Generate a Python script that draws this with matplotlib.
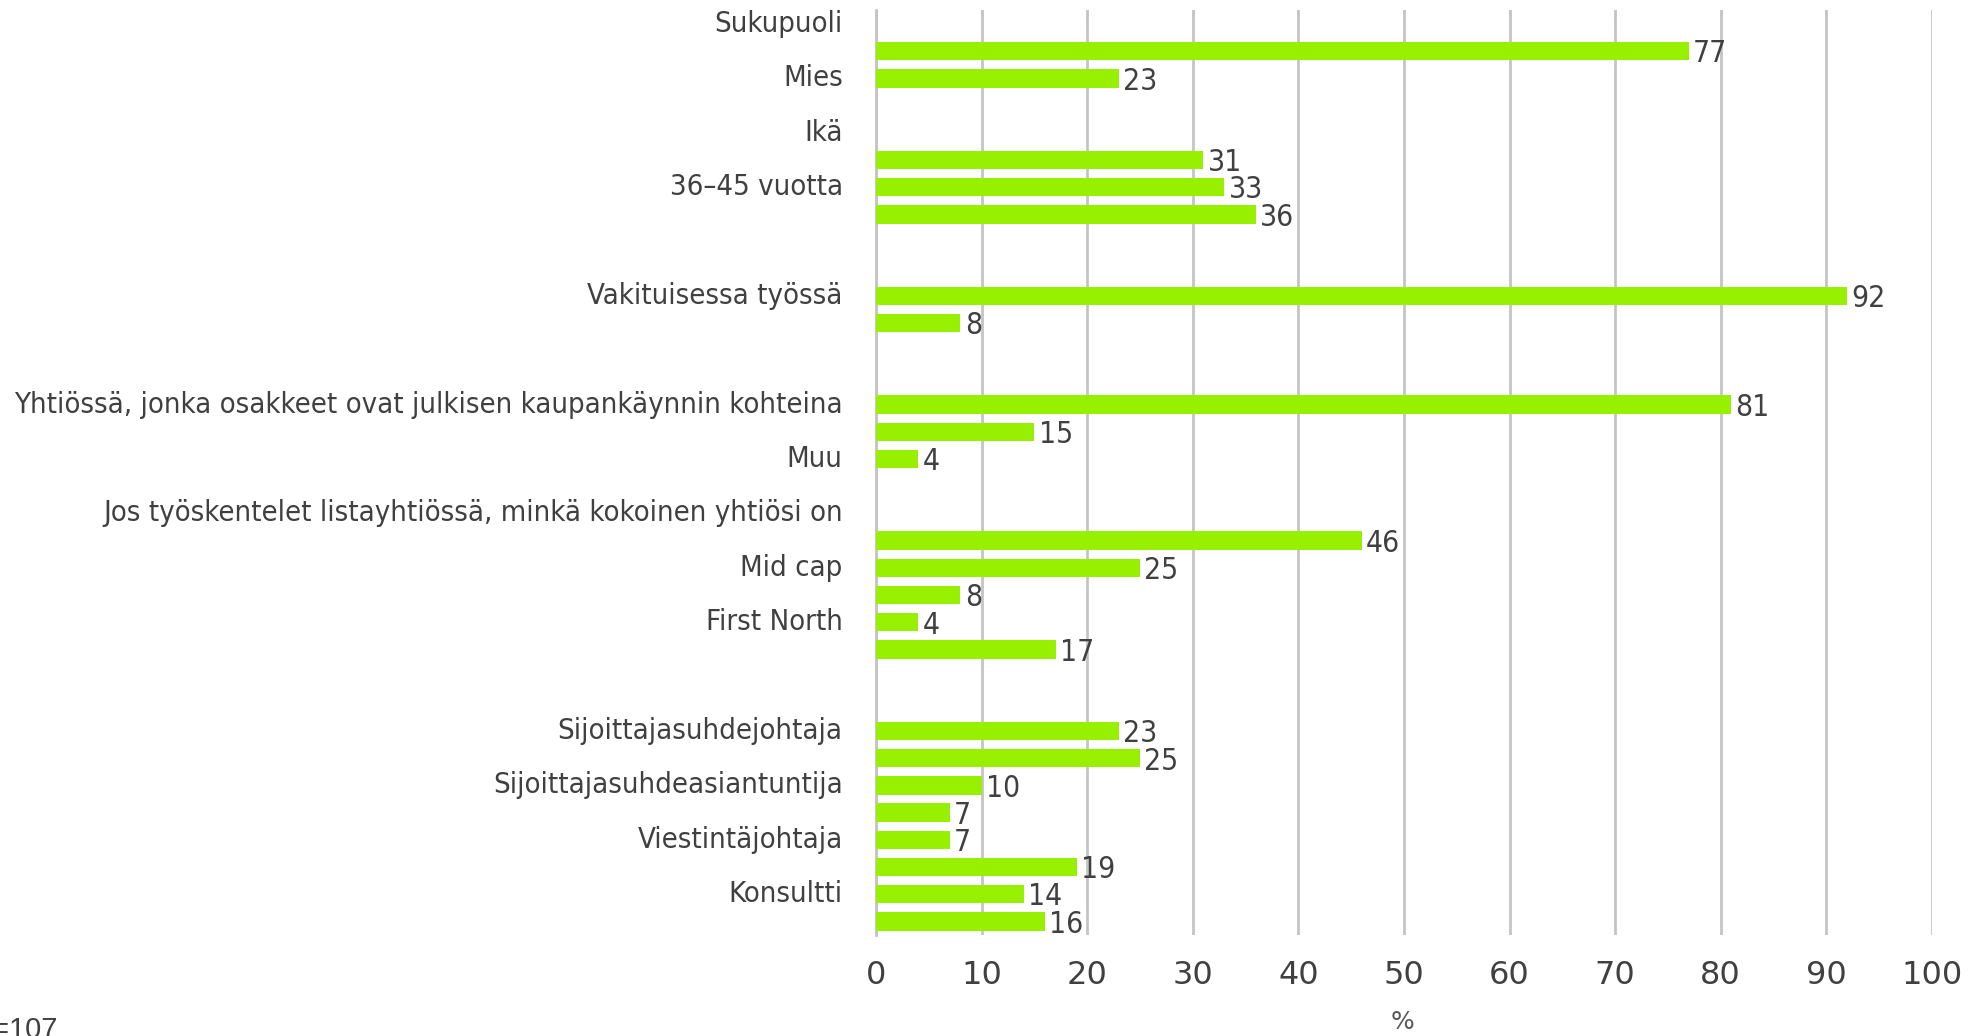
import matplotlib.pyplot as plt
import numpy as np

# Rivit ylhäältä alas (34 kpl), vain joka toinen nimi näkyy kaaviossa
kategoriat = [
    "Sukupuoli", "", "Mies", "", "Ikä", "", "36–45 vuotta", "", "", "",
    "Vakituisessa työssä", "", "", "",
    "Yhtiössä, jonka osakkeet ovat julkisen kaupankäynnin kohteina", "",
    "Muu", "", "Jos työskentelet listayhtiössä, minkä kokoinen yhtiösi on", "",
    "Mid cap", "", "First North", "", "", "",
    "Sijoittajasuhdejohtaja", "", "Sijoittajasuhdeasiantuntija", "",
    "Viestintäjohtaja", "", "Konsultti", "",
]
arvot = [
    np.nan, 77, 23, np.nan, np.nan, 31, 33, 36, np.nan, np.nan,
    92, 8, np.nan, np.nan,
    81, 15, 4, np.nan, np.nan, 46, 25, 8, 4, 17, np.nan, np.nan,
    23, 25, 10, 7, 7, 19, 14, 16,
]
x_ticks = list(range(0, 101, 10))

vihrea = "#97f000"
teksti = "#404040"
harmaa = "#c4c4c4"

plt.rcParams["font.family"] = ["DejaVu Sans"]

fig = plt.figure(figsize=(19.77, 10.36), dpi=100)
ax = fig.add_axes([0.4431, 0.0975, 0.9772 - 0.4431, 0.99 - 0.0975])

y = np.arange(len(arvot))
arr = np.array(arvot, dtype=float)
ax.barh(y, np.nan_to_num(arr), height=0.68, color=vihrea, zorder=3)

for yi, v in zip(y, arr):
    if np.isnan(v):
        continue
    ax.annotate(f"{v:.0f}", xy=(v, yi), xytext=(3, -2), textcoords="offset points",
                va="center", ha="left", fontsize=21.5, color=teksti,
                fontstretch="condensed")

ax.set_xlim(0, 100)
ax.set_ylim(len(arvot) - 0.5, -0.5)
ax.set_xticks(x_ticks)
ax.set_xticklabels([str(t) for t in x_ticks], fontsize=23, color=teksti)
ax.set_yticks(y[::2])
ax.set_yticklabels(kategoriat[::2], fontsize=21, color=teksti,
                   fontstretch="condensed", va="center")
ax.tick_params(axis="both", length=0)
ax.tick_params(axis="y", pad=24)
ax.tick_params(axis="x", pad=18)

ax.grid(axis="x", color=harmaa, linewidth=2, zorder=0)
for s in ["top", "right", "bottom"]:
    ax.spines[s].set_visible(False)
ax.spines["left"].set_color(harmaa)
ax.spines["left"].set_linewidth(2)

fig.text(1403 / 1977, 1 - 1022 / 1036, "%", ha="center", va="center",
         fontsize=18, color="#595959")
# n-luku jää osittain kuvan reunan yli kuten alkuperäisessä
fig.text(-0.012, 1 - 1016 / 1036, "n=107", ha="left", va="top",
         fontsize=21, color=teksti, family="Liberation Sans")

fig.savefig("out.png", dpi=100)
